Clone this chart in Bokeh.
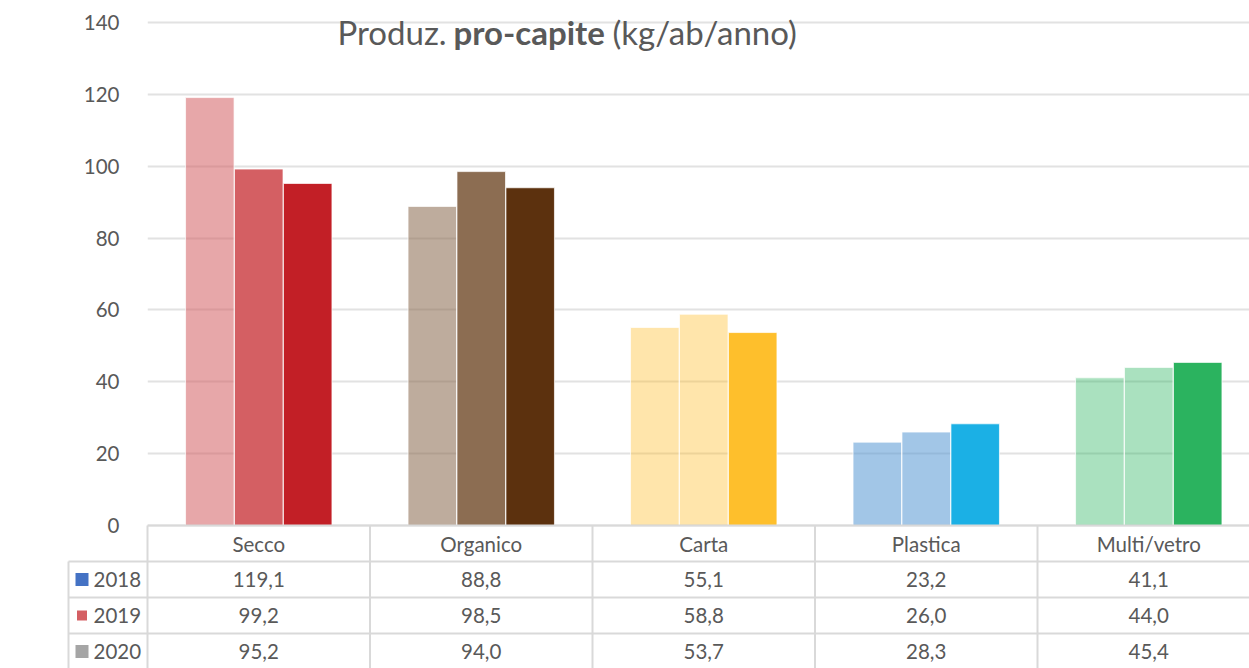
from math import pi
from bokeh.plotting import figure
from bokeh.models import Range1d, FixedTicker, Label, ColumnDataSource
from bokeh.embed import file_html
from bokeh.resources import INLINE
from bokeh.core.properties import value

# ---------------- data ----------------
categories = ["Secco", "Organico", "Carta", "Plastica", "Multi/vetro"]
years = ["2018", "2019", "2020"]
v2018 = [119.1, 88.8, 55.1, 23.2, 41.1]
v2019 = [99.2, 98.5, 58.8, 26.0, 44.0]
v2020 = [95.2, 94.0, 53.7, 28.3, 45.4]
y_ticks = [0, 20, 40, 60, 80, 100, 120, 140]
title_parts = ["Produz.", "pro-capite", "(kg/ab/anno)"]
y_label = "kg/ab/anno"

# ---------------- styles ----------------
FONT = "Lato"
TXT = "#595959"
LINE = "#D9D9D9"
bar_styles = [
    [("#D45F63", 0.55), ("#D45F63", 1.0), ("#C21F26", 1.0)],
    [("#8C6D52", 0.57), ("#8C6D52", 1.0), ("#5C310E", 1.0)],
    [("#FEBF2C", 0.40), ("#FEBF2C", 0.40), ("#FEBF2C", 1.0)],
    [("#5B9BD5", 0.57), ("#5B9BD5", 0.57), ("#1BB0E5", 1.0)],
    [("#2BB35F", 0.40), ("#2BB35F", 0.40), ("#2BB35F", 1.0)],
]
key_colors = ["#4472C4", "#D45F63", "#A5A5A5"]
key_sizes = [13, 10, 13]
offsets = [-0.22, 0.0, 0.22]

PX_X = 222.5    # px per category column
PX_Y = 3.5929   # px per kg unit
ROW = 36.0 / PX_Y  # table row height in data units

W, H = 1249, 668
FL, FT = 147, 12   # frame left / top in px
Y0 = 525           # px of value 0
series = [v2018, v2019, v2020]
n = len(categories)


def dx(px):
    return (px - FL) / PX_X


def dy(px):
    return (Y0 - px) / PX_Y


p = figure(width=W, height=H,
           x_range=Range1d(0, (W - FL) / PX_X),
           y_range=Range1d(dy(H), dy(FT)),
           output_backend="svg", toolbar_location=None, x_axis_type=None,
           min_border_left=FL, min_border_right=0, min_border_top=FT, min_border_bottom=0)
p.outline_line_color = None
p.background_fill_color = "white"
p.border_fill_color = "white"

p.yaxis.ticker = FixedTicker(ticks=y_ticks)
p.yaxis.axis_line_color = None
p.yaxis.major_tick_line_color = None
p.yaxis.minor_tick_line_color = None
p.yaxis.major_label_text_font = FONT
p.yaxis.major_label_text_font_size = "20.5px"
p.yaxis.major_label_text_color = TXT
p.yaxis.major_label_standoff = 22
p.ygrid.ticker = FixedTicker(ticks=y_ticks)
p.ygrid.grid_line_color = "#E2E2E2"
p.ygrid.grid_line_width = 2

# bars
xs, tops, cols, alphas = [], [], [], []
for ci in range(n):
    for si in range(len(years)):
        xs.append(ci + 0.5 + offsets[si])
        tops.append(series[si][ci])
        cols.append(bar_styles[ci][si][0])
        alphas.append(bar_styles[ci][si][1])
src = ColumnDataSource(dict(x=xs, top=tops, color=cols, alpha=alphas))
p.vbar(x="x", top="top", bottom=0, width=0.218, source=src,
       fill_color="color", fill_alpha="alpha", line_color="white", line_width=1, line_alpha=0.7)

# ---------------- data table ----------------
x_left = dx(68)
y_bot = dy(H) - 2
row_lines = [-(r + 1) * ROW for r in range(len(years))]
grid_r = []
grid_r.append(p.segment(x0=[0], y0=[0], x1=[n], y1=[0], line_color=LINE, line_width=2))
grid_r.append(p.segment(x0=[x_left] * len(row_lines), y0=row_lines, x1=[n] * len(row_lines),
                        y1=row_lines, line_color=LINE, line_width=2))
grid_r.append(p.segment(x0=[x_left], y0=[-ROW], x1=[x_left], y1=[y_bot],
                        line_color=LINE, line_width=2))
grid_r.append(p.segment(x0=list(range(n)), y0=[0] * n, x1=list(range(n)), y1=[y_bot] * n,
                        line_color=LINE, line_width=2))

# header row (categories)
p.text(x=[i + 0.5 for i in range(n)], y=[-0.5 * ROW] * n, text=categories,
       text_font=value(FONT), text_font_size="20.5px", text_color=TXT,
       text_align="center", text_baseline="middle")

row_c = [-(r + 1.5) * ROW for r in range(len(years))]
key_src = ColumnDataSource(dict(
    x0=[dx(81.5 - s / 2) for s in key_sizes], x1=[dx(81.5 + s / 2) for s in key_sizes],
    y=row_c, w=key_sizes, c=key_colors))
grid_r.append(p.segment(x0="x0", y0="y", x1="x1", y1="y", line_width="w", line_color="c",
                        line_cap="butt", source=key_src))
grid_r.append(p.text(x=[dx(93)] * len(years), y=row_c, text=years,
                     text_font=value(FONT), text_font_size="20.5px", text_color=TXT,
                     text_align="left", text_baseline="middle"))
for r in grid_r:
    r.level = "overlay"

vx, vy, vt = [], [], []
for si, s in enumerate(series):
    for ci, v in enumerate(s):
        vx.append(ci + 0.5)
        vy.append(row_c[si])
        vt.append(f"{v:.1f}".replace(".", ","))
p.text(x=vx, y=vy, text=vt, text_font=value(FONT), text_font_size="20.5px",
       text_color=TXT, text_align="center", text_baseline="middle")

# title (mixed weight)
title_x = [dx(337), dx(453), dx(612)]
title_w = ["normal", "bold", "normal"]
for tx, tt, tw in zip(title_x, title_parts, title_w):
    p.add_layout(Label(x=tx, y=dy(31), text=tt, text_font=FONT,
                       text_font_size="33px", text_font_style=tw, text_color=TXT,
                       text_align="left", text_baseline="middle"))

p.add_layout(Label(x=dx(28), y=dy(304), text=y_label, angle=pi / 2,
                   text_font=FONT, text_font_size="22px", text_color=TXT,
                   text_align="center", text_baseline="middle"))

open("out.html", "w").write(file_html(p, INLINE))
